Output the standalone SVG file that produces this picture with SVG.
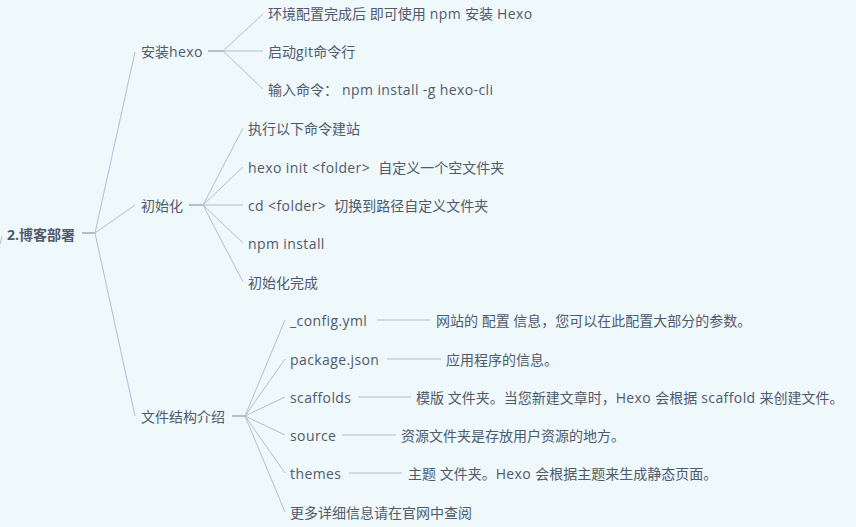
<svg xmlns="http://www.w3.org/2000/svg" width="856" height="527" viewBox="0 0 856 527">
<style>
.bg{fill:#eff8fb}
text{font-family:"Open Sans","Noto Sans CJK SC",sans-serif;font-size:14px;fill:#4f5a6b;dominant-baseline:central;white-space:pre}
.root{font-weight:bold}
.l{letter-spacing:0.4px}
.c line{stroke:#b3bece;stroke-width:1;fill:none}
.c .stub{stroke-width:2}
</style>
<rect class="bg" x="0" y="0" width="856" height="527"/>
<g id="connectors" class="c">
<line x1="0" y1="244" x2="2" y2="236"/>
<line class="stub" x1="82" y1="233" x2="95" y2="233"/>
<line x1="95" y1="233" x2="135" y2="52"/>
<line x1="95" y1="233" x2="135" y2="205"/>
<line x1="95" y1="233" x2="135" y2="416"/>
<line class="stub" x1="208" y1="51" x2="223" y2="51"/>
<line x1="223" y1="51" x2="263" y2="14"/>
<line x1="223" y1="51" x2="263" y2="51"/>
<line x1="223" y1="51" x2="263" y2="89"/>
<line class="stub" x1="189" y1="205" x2="203" y2="205"/>
<line x1="203" y1="205" x2="243" y2="128"/>
<line x1="203" y1="205" x2="243" y2="167"/>
<line x1="203" y1="205" x2="243" y2="205"/>
<line x1="203" y1="205" x2="243" y2="243"/>
<line x1="203" y1="205" x2="243" y2="282"/>
<line class="stub" x1="232" y1="416" x2="245" y2="416"/>
<line x1="245" y1="416" x2="285" y2="320"/>
<line x1="245" y1="416" x2="285" y2="359"/>
<line x1="245" y1="416" x2="285" y2="397"/>
<line x1="245" y1="416" x2="285" y2="435"/>
<line x1="245" y1="416" x2="285" y2="473"/>
<line x1="245" y1="416" x2="285" y2="512"/>
<line x1="377" y1="320" x2="430" y2="320"/>
<line x1="387" y1="359" x2="441" y2="359"/>
<line x1="358" y1="397" x2="411" y2="397"/>
<line x1="342" y1="435" x2="396" y2="435"/>
<line x1="349" y1="473" x2="402" y2="473"/>
</g>
<g id="root"><text class="root" x="7" y="234">2.博客部署</text></g>
<g id="n-install"><text x="141" y="51">安装<tspan class="l">hexo</tspan></text></g>
<g id="n-install-1"><text x="268" y="13">环境配置完成后 即可使用<tspan class="l"> npm </tspan>安装<tspan class="l"> Hexo</tspan></text></g>
<g id="n-install-2"><text x="268" y="51">启动<tspan class="l">git</tspan>命令行</text></g>
<g id="n-install-3"><text x="268" y="89">输入命令：<tspan class="l"> npm install -g hexo-cli</tspan></text></g>
<g id="n-init"><text x="141" y="205">初始化</text></g>
<g id="n-init-1"><text x="248" y="128">执行以下命令建站</text></g>
<g id="n-init-2"><text x="248" y="167"><tspan class="l">hexo init &lt;folder&gt;  </tspan>自定义一个空文件夹</text></g>
<g id="n-init-3"><text x="248" y="205"><tspan class="l">cd &lt;folder&gt;  </tspan>切换到路径自定义文件夹</text></g>
<g id="n-init-4"><text class="l" x="248" y="243">npm install</text></g>
<g id="n-init-5"><text x="248" y="282">初始化完成</text></g>
<g id="n-struct"><text x="141" y="416">文件结构介绍</text></g>
<g id="n-config"><text class="l" x="290" y="320">_config.yml</text></g>
<g id="n-config-d"><text x="436" y="320">网站的 配置 信息，您可以在此配置大部分的参数。</text></g>
<g id="n-package"><text class="l" x="290" y="359">package.json</text></g>
<g id="n-package-d"><text x="446" y="359">应用程序的信息。</text></g>
<g id="n-scaffolds"><text class="l" x="290" y="397">scaffolds</text></g>
<g id="n-scaffolds-d"><text x="416" y="397">模版 文件夹。当您新建文章时，<tspan class="l">Hexo </tspan>会根据<tspan class="l"> scaffold </tspan>来创建文件。</text></g>
<g id="n-source"><text class="l" x="290" y="435">source</text></g>
<g id="n-source-d"><text x="401" y="435">资源文件夹是存放用户资源的地方。</text></g>
<g id="n-themes"><text class="l" x="290" y="473">themes</text></g>
<g id="n-themes-d"><text x="408" y="473">主题 文件夹。<tspan class="l">Hexo </tspan>会根据主题来生成静态页面。</text></g>
<g id="n-more"><text x="290" y="512">更多详细信息请在官网中查阅</text></g>
</svg>
